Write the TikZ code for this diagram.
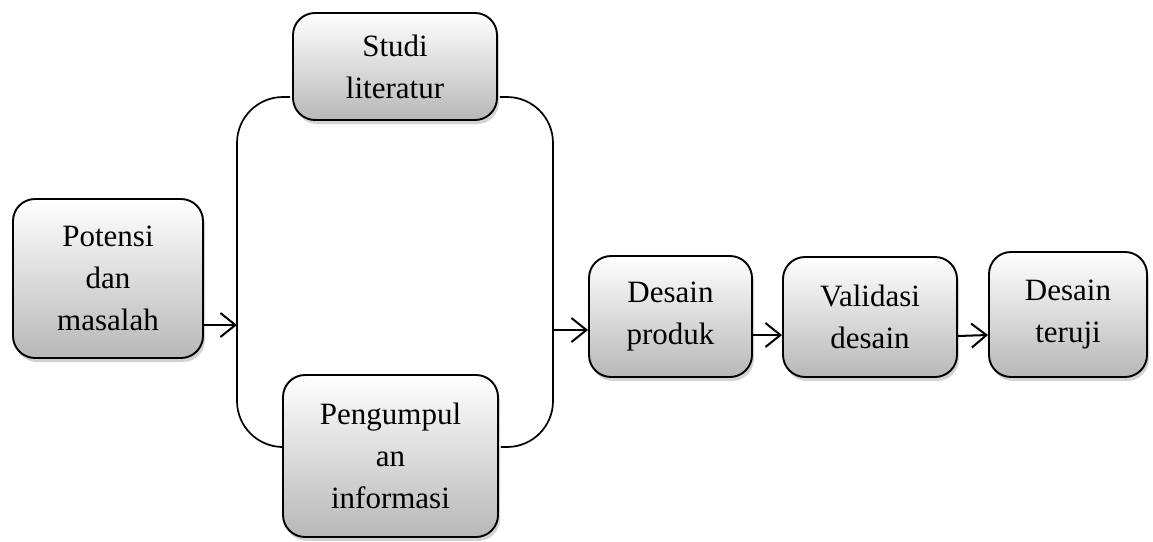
\documentclass[tikz,border=0pt]{standalone}
\usepackage{fontspec}
\setmainfont{Liberation Serif}
\usetikzlibrary{arrows.meta,shadows,calc}
\begin{document}
\begin{tikzpicture}[x=1pt,y=-1pt,
  box/.style={draw=black,line width=1.9pt,rounded corners=22pt,top color=white,bottom color=black!28,
    drop shadow={opacity=0.35,shadow xshift=2pt,shadow yshift=-4pt},
    align=center,font=\fontsize{31}{42}\selectfont,inner sep=0pt},
  conn/.style={line width=1.7pt},
  arr/.style={line width=2pt,-{Straight Barb[length=15pt,width=24pt,line width=2pt]}}]
\useasboundingbox (0,0) rectangle (1153,541);
\node[box,minimum width=190pt,minimum height=159pt] (P) at (108,278.5) {Potensi\\dan\\masalah};
\node[box,minimum width=204pt,minimum height=107pt] (S) at (395,66.5) {Studi\\literatur};
\node[box,minimum width=215pt,minimum height=162pt] (G) at (390.5,456) {Pengumpul\\an\\informasi};
\node[box,minimum width=163pt,minimum height=121pt] (D) at (670.5,316.5) {Desain\\produk};
\node[box,minimum width=174pt,minimum height=120pt] (V) at (870,317) {Validasi\\desain};
\node[box,minimum width=158pt,minimum height=125pt] (T) at (1068,314.5) {Desain\\teruji};
\coordinate (jl) at (237,325);
\coordinate (jr) at (553,330);
\draw[conn,rounded corners=46pt] ([yshift=-30.5pt,xshift=-2pt]S.west) -| (237,447) -- ([yshift=9pt,xshift=-2pt]G.west);
\draw[conn,rounded corners=46pt] ([yshift=-30.5pt,xshift=2pt]S.east) -| (553,447) -- ([yshift=9pt,xshift=2pt]G.east);
\draw[arr] ([yshift=-46.5pt]P.east) -- (jl);
\draw[arr] (jr) -- ([yshift=-13.5pt]D.west);
\draw[arr] ([yshift=-18.5pt]D.east) -- ([yshift=-18pt]V.west);
\draw[arr] ([yshift=-19pt]V.east) -- ([yshift=-20.5pt]T.west);
\end{tikzpicture}
\end{document}
